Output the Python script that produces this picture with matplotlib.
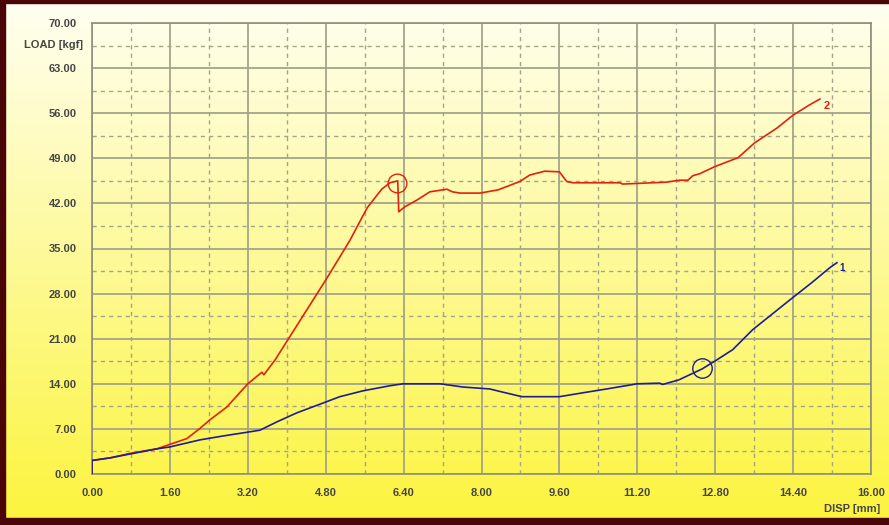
import numpy as np
import matplotlib
matplotlib.use("Agg")
import matplotlib.pyplot as plt
from matplotlib.patches import Rectangle
from matplotlib.ticker import MultipleLocator, FormatStrFormatter

# Load vs displacement, specimen 2 (red)
disp_2 = [0.0, 0.0, 0.37, 0.78, 1.33, 1.60, 1.95, 2.22, 2.42, 2.77, 3.20, 3.49,
          3.53, 3.76, 4.80, 5.30, 5.65, 5.95, 6.12, 6.28, 6.30, 6.43, 6.67, 6.94,
          7.29, 7.40, 7.56, 7.97, 8.34, 8.79, 8.99, 9.30, 9.60, 9.75, 9.88, 10.84,
          10.90, 11.80, 12.07, 12.24, 12.34, 12.48, 12.79, 13.27, 13.61, 14.07,
          14.40, 14.74, 14.95]
load_2 = [0.0, 2.1, 2.5, 3.2, 3.9, 4.6, 5.5, 7.1, 8.4, 10.4, 14.0, 15.8,
          15.4, 17.7, 30.1, 36.3, 41.3, 44.2, 45.2, 45.5, 40.7, 41.5, 42.5, 43.8,
          44.2, 43.8, 43.6, 43.6, 44.1, 45.4, 46.4, 47.0, 46.9, 45.4, 45.2, 45.2,
          45.0, 45.3, 45.6, 45.6, 46.3, 46.6, 47.7, 49.1, 51.4, 53.7,
          55.7, 57.3, 58.2]

# Load vs displacement, specimen 1 (blue)
disp_1 = [0.0, 0.0, 0.37, 0.78, 1.33, 1.60, 2.22, 2.69, 3.20, 3.45, 3.80, 4.21,
          4.74, 5.09, 5.56, 6.12, 6.39, 7.15, 7.62, 8.17, 8.44, 8.83, 9.60, 10.08,
          10.57, 11.20, 11.66, 11.72, 12.05, 12.53, 12.83, 13.16, 13.57, 14.00,
          14.33, 14.80, 15.15, 15.30]
load_1 = [0.0, 2.1, 2.5, 3.1, 3.9, 4.2, 5.3, 5.9, 6.5, 6.8, 8.1, 9.5,
          11.0, 12.0, 12.9, 13.7, 14.0, 14.0, 13.5, 13.2, 12.7, 12.0, 12.0, 12.6,
          13.2, 14.0, 14.1, 13.9, 14.6, 16.3, 17.7, 19.3, 22.4, 25.0,
          27.0, 29.8, 32.0, 32.8]

# Marked points (circles)
mark_2 = (6.26, 45.2)
mark_1 = (12.53, 16.5)

W, H = 889, 525
fig = plt.figure(figsize=(W / 100, H / 100), dpi=100)

# Background gradient: pale cream at top to yellow at bottom
bg = fig.add_axes([0, 0, 1, 1], zorder=-10)
top = np.array([255, 255, 242]) / 255
bot = np.array([252, 244, 60]) / 255
t = np.linspace(0, 1, 256)[:, None]
grad = top[None, :] * (1 - t) + bot[None, :] * t
bg.imshow(grad[:, None, :].repeat(2, axis=1), aspect="auto", extent=[0, 1, 0, 1])
bg.set_axis_off()

# Dark frame around the figure
frame = "#4a0606"
fig.patches.append(Rectangle((0, 0), 5 / W, 1, transform=fig.transFigure, color=frame, zorder=5))
fig.patches.append(Rectangle((0, 0), 1, 7 / H, transform=fig.transFigure, color=frame, zorder=5))
fig.patches.append(Rectangle((0, 1 - 3 / H), 1, 3 / H, transform=fig.transFigure, color=frame, zorder=5))

x0, x1 = 92, 871
y0, y1 = 474, 23
ax = fig.add_axes([x0 / W, 1 - y0 / H, (x1 - x0) / W, (y0 - y1) / H])
ax.set_facecolor("none")
ax.set_xlim(0, 16)
ax.set_ylim(0, 70)

ax.xaxis.set_major_locator(MultipleLocator(1.6))
ax.xaxis.set_minor_locator(MultipleLocator(0.8))
ax.yaxis.set_major_locator(MultipleLocator(7))
ax.yaxis.set_minor_locator(MultipleLocator(3.5))
ax.xaxis.set_major_formatter(FormatStrFormatter("%.2f"))
ax.yaxis.set_major_formatter(FormatStrFormatter("%.2f"))

gridc = "#a4a48a"
ax.grid(which="major", color=gridc, lw=1.3, ls="-")
ax.grid(which="minor", color=gridc, lw=1.0, ls=(0, (3, 3)))
ax.set_axisbelow(True)
for s in ax.spines.values():
    s.set_color("#8e8e80")
    s.set_linewidth(1.2)

lab_font = dict(family="Liberation Sans", weight="bold", size=8, color="#454545")
ax.tick_params(which="both", length=0)
ax.tick_params(axis="y", pad=11)
ax.tick_params(axis="x", pad=10)
for lbl in ax.get_xticklabels() + ax.get_yticklabels():
    lbl.set_fontfamily(lab_font["family"])
    lbl.set_fontweight("bold")
    lbl.set_fontsize(8)
    lbl.set_color(lab_font["color"])

red = "#e2220e"
blue = "#1e1e92"
ax.plot(disp_2, load_2, color=red, lw=1.2, drawstyle="steps-post" if False else "default", zorder=3)
ax.plot(disp_1, load_1, color=blue, lw=1.2, zorder=3)
ax.plot(*mark_2, marker="o", ms=13.5, mfc="none", mec=red, mew=1.0, zorder=4)
ax.plot(*mark_1, marker="o", ms=14, mfc="none", mec=blue, mew=1.0, zorder=4)

ax.annotate("2", xy=(disp_2[-1], load_2[-1]), xytext=(3, -5), textcoords="offset points",
            color=red, fontsize=8, fontweight="bold", family="Liberation Sans", va="center")
ax.annotate("1", xy=(disp_1[-1], load_1[-1]), xytext=(2, -4), textcoords="offset points",
            color=blue, fontsize=7, fontweight="bold", family="Liberation Sans", va="center")

# Axis names
fig.text(83 / W, 1 - 45 / H, "LOAD [kgf]", ha="right", va="center", **lab_font)
fig.text(880 / W, 1 - 509 / H, "DISP [mm]", ha="right", va="center", **lab_font)

fig.savefig("out.png", dpi=100)
